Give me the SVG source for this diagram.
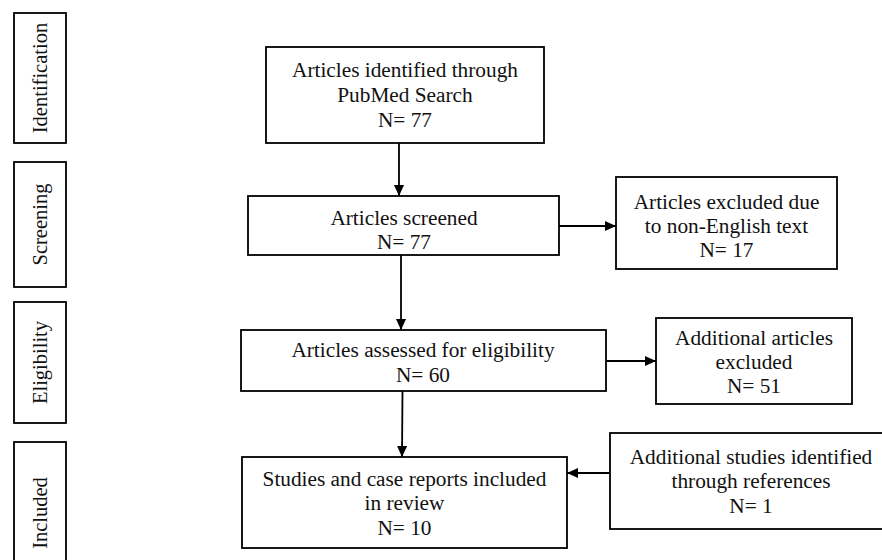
<svg xmlns="http://www.w3.org/2000/svg" width="882" height="560" viewBox="0 0 882 560">
<defs>
<style>
.box{fill:#fff;stroke:#000;stroke-width:1.8}
.t{font-family:"Liberation Serif","Times New Roman",serif;font-size:21.3px;fill:#111;text-anchor:middle}
.s{font-family:"Liberation Serif","Times New Roman",serif;font-size:20.5px;fill:#111;text-anchor:middle}
.c{stroke:#000;stroke-width:1.8;fill:none;marker-end:url(#ah)}
</style>
<marker id="ah" markerUnits="userSpaceOnUse" markerWidth="12" markerHeight="10" refX="11" refY="5" orient="auto">
<path d="M0,0 L11,5 L0,10 Z" fill="#000"/>
</marker>
</defs>
<rect width="882" height="560" fill="#fff"/>

<g id="stage-identification">
<rect class="box" x="14" y="13" width="52" height="130"/>
<text class="s" transform="translate(47,78) rotate(-90)">Identification</text>
</g>
<g id="stage-screening">
<rect class="box" x="14" y="162" width="52" height="125"/>
<text class="s" transform="translate(47,224.5) rotate(-90)">Screening</text>
</g>
<g id="stage-eligibility">
<rect class="box" x="14" y="302" width="52" height="121"/>
<text class="s" transform="translate(47,362.5) rotate(-90)">Eligibility</text>
</g>
<g id="stage-included">
<rect class="box" x="14" y="442" width="52" height="142"/>
<text class="s" transform="translate(47,513) rotate(-90)">Included</text>
</g>

<g id="connectors">
<line class="c" x1="399" y1="143" x2="399" y2="196"/>
<line class="c" x1="559" y1="226" x2="616" y2="226"/>
<line class="c" x1="401" y1="255" x2="401" y2="330"/>
<line class="c" x1="606" y1="361" x2="656" y2="361"/>
<line class="c" x1="402.5" y1="391" x2="402" y2="457"/>
<line class="c" x1="610" y1="473" x2="567" y2="473"/>
</g>

<g id="n-identified">
<rect class="box" x="266" y="47" width="278" height="96"/>
<text class="t" x="405" y="77">Articles identified through</text>
<text class="t" x="405" y="102">PubMed Search</text>
<text class="t" x="405" y="127">N= 77</text>
</g>
<g id="n-screened">
<rect class="box" x="248" y="196" width="311" height="59"/>
<text class="t" x="404" y="225">Articles screened</text>
<text class="t" x="404" y="249">N= 77</text>
</g>
<g id="n-excluded-language">
<rect class="box" x="616" y="177" width="221" height="92"/>
<text class="t" x="726.5" y="209">Articles excluded due</text>
<text class="t" x="726.5" y="233">to non-English text</text>
<text class="t" x="726.5" y="257">N= 17</text>
</g>
<g id="n-eligibility">
<rect class="box" x="241" y="330" width="365" height="61"/>
<text class="t" x="423" y="357">Articles assessed for eligibility</text>
<text class="t" x="423" y="382">N= 60</text>
</g>
<g id="n-excluded-additional">
<rect class="box" x="656" y="318" width="196" height="86"/>
<text class="t" x="754" y="345">Additional articles</text>
<text class="t" x="754" y="369">excluded</text>
<text class="t" x="754" y="393">N= 51</text>
</g>
<g id="n-included">
<rect class="box" x="242" y="457" width="325" height="91"/>
<text class="t" x="404.5" y="486">Studies and case reports included</text>
<text class="t" x="404.5" y="510">in review</text>
<text class="t" x="404.5" y="535">N= 10</text>
</g>
<g id="n-references">
<rect class="box" x="610" y="433" width="282" height="96"/>
<text class="t" x="751" y="464">Additional studies identified</text>
<text class="t" x="751" y="488">through references</text>
<text class="t" x="751" y="513">N= 1</text>
</g>
</svg>
